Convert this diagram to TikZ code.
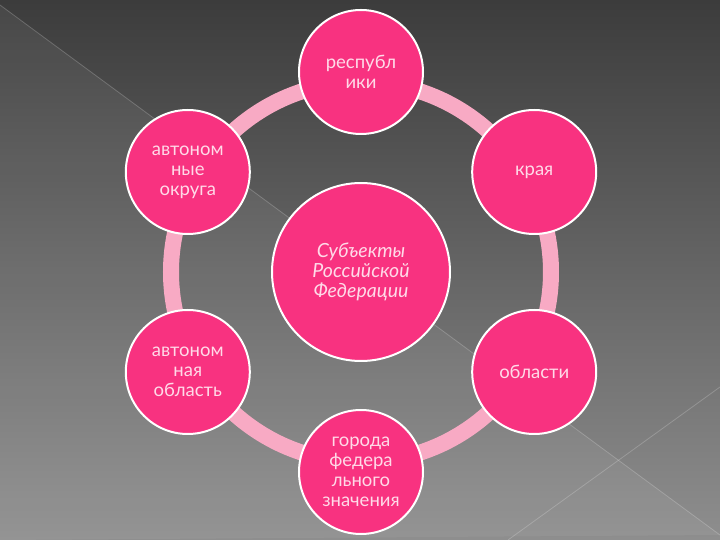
\documentclass[tikz,border=0pt]{standalone}
\usepackage{fontspec}
\setmainfont{Lato}
\usepackage{tikz}
\usetikzlibrary{positioning}
\definecolor{bgtop}{RGB}{60,60,60}
\definecolor{bgbottom}{RGB}{142,142,142}
\definecolor{hotpink}{RGB}{248,50,128}
\definecolor{ringpink}{RGB}{248,170,196}
\definecolor{textpink}{RGB}{255,218,232}

\begin{document}
\begin{tikzpicture}[
  x=1pt, y=1pt,
  subject/.style={circle, draw=white, line width=2pt, fill=hotpink,
                  minimum size=124pt, inner sep=0pt, align=center,
                  text=textpink, font=\fontsize{18.5}{20}\selectfont},
  hub/.style={subject, minimum size=178pt,
              font=\itshape\fontsize{19.5}{20}\selectfont},
  ring/.style={draw=ringpink, line width=16pt},
  streak/.style={draw=white, opacity=0.2, line width=0.8pt}
]

% background
\shade[top color=bgtop, bottom color=bgbottom] (-361,-268) rectangle (359,272);
\useasboundingbox (-361,-268) rectangle (359,272);
\fill[white, opacity=0.06] (-361,267) -- (359,-263) -- (-361,-268) -- cycle;
\draw[streak] (-361,267) -- (359,-263);
\draw[streak] (359,-115) -- (147,-268);

\node[hub] (hub) at (0,0) {Субъекты\\Российской\\Федерации};

% ring behind the outer circles
\draw[ring] (hub.center) circle[radius=190];

\node[subject] (respub)  at (90:200)  {республ\\ики};
\node[subject] (kraya)   at (30:200)  {края};
\node[subject] (oblasti) at (-30:200) {области};
\node[subject] (goroda)  at (-90:200) {города\\федера\\льного\\значения};
\node[subject] (aoblast) at (210:200) {автоном\\ная\\область};
\node[subject] (aokrug)  at (150:200) {автоном\\ные\\округа};

\end{tikzpicture}
\end{document}
